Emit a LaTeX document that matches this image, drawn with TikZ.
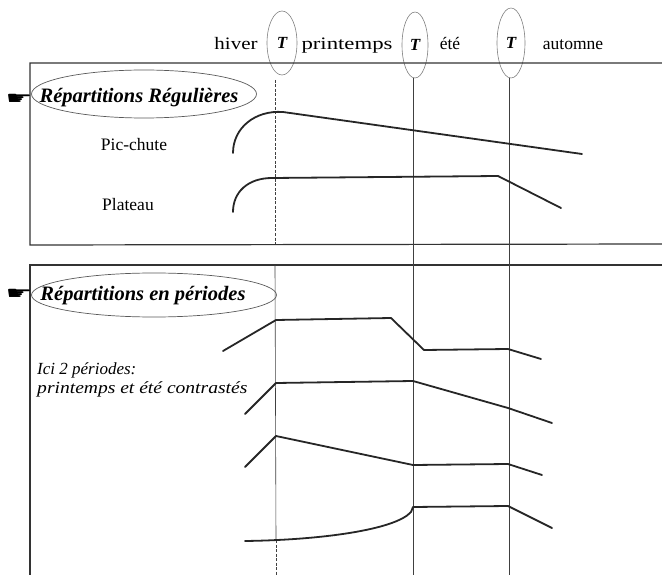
\documentclass[tikz,border=0pt]{standalone}
\usepackage{fontspec}
\setmainfont{Liberation Serif}
\newfontfamily\symfont{DejaVu Sans}
\usetikzlibrary{shapes.geometric}
\begin{document}
\begin{tikzpicture}[x=1pt,y=-1pt,
  curve/.style={line width=1.8pt, line join=round, line cap=round, black!85},
  frame/.style={line width=1.2pt, black!80},
  guide/.style={line width=0.6pt, black!75},
  tell/.style={ellipse, draw=black!50, line width=0.6pt, inner sep=0pt, font=\fontsize{17}{20}\selectfont\bfseries\itshape},
  headell/.style={ellipse, draw=black!65, line width=0.7pt, inner sep=0pt},
  headtxt/.style={inner sep=0pt, font=\fontsize{20.5}{24}\selectfont\bfseries\itshape},
  season/.style={inner sep=0pt, anchor=base, font=\fontsize{17.5}{20}\selectfont},
  label/.style={inner sep=0pt, font=\fontsize{17.5}{20}\selectfont},
  note/.style={inner sep=0pt, anchor=west, font=\fontsize{17}{20}\selectfont\itshape},
  hand/.style={inner sep=0pt, yscale=0.6, font=\symfont\fontsize{30}{30}\selectfont}]
\useasboundingbox (0,0) rectangle (662,575);

% header
\node[season, xscale=1.2] (hiver) at (236,50) {hiver};
\node[season, xscale=1.3] (print) at (347,50) {printemps};
\node[season] (ete) at (450,50) {été};
\node[season] (autom) at (573,50) {automne};
\node[tell, minimum width=30pt, minimum height=64pt] (t1) at (282,43) {T};
\node[tell, minimum width=26pt, minimum height=66pt] (t2) at (415,45) {T};
\node[tell, minimum width=28pt, minimum height=70pt] (t3) at (511,43) {T};

% frames
\coordinate (f1tr) at (662,63);
\coordinate (f1tl) at (30,63);
\coordinate (f1bl) at (30,245);
\coordinate (f1br) at (662,244);
\draw[frame] (f1tr) -- (f1tl) -- (f1bl) -- (f1br);
\coordinate (f2tr) at (662,265);
\coordinate (f2tl) at (30,265);
\coordinate (f2bl) at (30,575);
\draw[frame] (f2tr) -- (f2tl) -- (f2bl);

% vertical guides
\coordinate (v1a) at (275,80);
\coordinate (v1b) at (275,244);
\coordinate (v1c) at (275,265);
\coordinate (v1d) at (276,540);
\coordinate (v1e) at (276,575);
\draw[guide, dash pattern=on 3pt off 1.5pt] (v1a) -- (v1b);
\draw[guide] (v1c) -- (v1d);
\draw[guide, dash pattern=on 3pt off 1.5pt] (v1d) -- (v1e);
\coordinate (v2e) at (413,575);
\coordinate (v3e) at (509,575);
\draw[guide] (t2.south) ++(-2,0) -- (v2e);
\draw[guide] (t3.south) ++(-2,0) -- (v3e);

% headings
\node[headell, minimum width=225pt, minimum height=48pt] (e1) at (144,94) {};
\node[headtxt] (h1) at (139,98) {Répartitions Régulières};
\node[hand] (hand1) at (19,99) {☛};
\node[headell, minimum width=245pt, minimum height=44pt] (e2) at (154,295) {};
\node[headtxt] (h2) at (143,296) {Répartitions en périodes};
\node[hand] (hand2) at (19,294) {☛};

% labels
\node[label] (pic) at (134,145) {Pic-chute};
\node[label] (plat) at (128,205) {Plateau};
\node[note] (n1) at (37,370) {Ici 2 périodes:};
\node[note, xscale=1.15] (n2) at (37,389) {printemps et été contrastés};

% curves, regular
\draw[curve] (233,153) .. controls (233,128) and (255,110) .. (283,112) -- (582,154);
\draw[curve] (233,212) .. controls (233,192) and (248,178) .. (272,178) -- (498,176) -- (561,208);

% curves, periods
\draw[curve] (223,351) -- (276,320) -- (391,318) -- (424,350) -- (508,349) -- (541,359);
\draw[curve] (245,414) -- (276,383) -- (413,381) -- (508,408) -- (552,423);
\draw[curve] (245,467) -- (276,436) -- (413,465) -- (508,464) -- (542,475);
\draw[curve] (245,541) .. controls (320,540) and (395,530) .. (411,512) -- (413,507) -- (508,506) -- (552,528);
\end{tikzpicture}
\end{document}
